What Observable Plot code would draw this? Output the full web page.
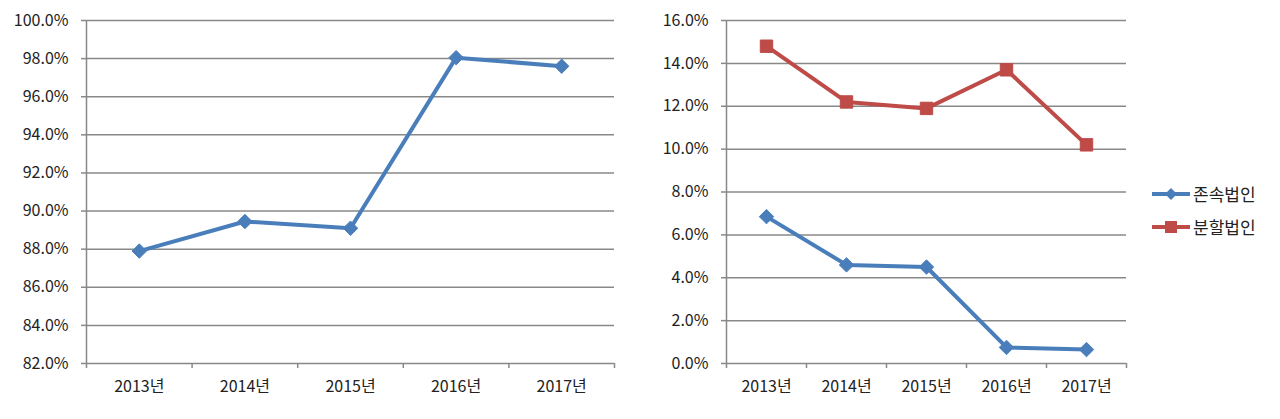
<!DOCTYPE html>
<html>
<head>
<meta charset="utf-8">
<script src="https://cdn.jsdelivr.net/npm/d3@7"></script>
<script src="https://cdn.jsdelivr.net/npm/@observablehq/plot@0.6"></script>
<style>
  html, body { margin: 0; padding: 0; background: #fff; }
  #wrap { position: relative; width: 1280px; height: 419px; font-family: "Noto Sans CJK KR", "Noto Sans", sans-serif; }
  .panel { position: absolute; top: 0; }
  .legend { position: absolute; left: 1152px; font-size: 17px; color: #222; display: flex; align-items: center; }
  .legend svg { margin-right: 3px; }
</style>
</head>
<body>
<div id="wrap"></div>
<script>
const years = ["2013", "2014", "2015", "2016", "2017"];
const leftValues = [87.9, 89.45, 89.1, 98.05, 97.6];
const survivingValues = [6.85, 4.6, 4.5, 0.75, 0.65];   // 존속법인
const splitValues = [14.8, 12.2, 11.9, 13.7, 10.2];     // 분할법인
const seriesNames = ["존속법인", "분할법인"];
const seriesColors = ["#4a7ebb", "#be4b48"];
const leftYTicks = [82, 84, 86, 88, 90, 92, 94, 96, 98, 100];
const rightYTicks = [0, 2, 4, 6, 8, 10, 12, 14, 16];

const FONT = '"Noto Sans CJK KR", "Noto Sans", sans-serif';
const GRID = "#888888";
const TEXT = "#222222";
const fmt = d => d.toFixed(1) + "%";

function panel({series, yDomain, yTicks, marginRight}) {
  const idx = d3.range(years.length);
  const centers = idx.map(i => i + 0.5);
  const bounds = d3.range(years.length + 1);
  const marks = [
    Plot.ruleY(yTicks, {stroke: GRID, strokeWidth: 1.5}),
    Plot.axisY({ticks: yTicks, tickFormat: fmt, tickSize: 5, tickPadding: 13, stroke: GRID, strokeWidth: 1.5, fill: TEXT, label: null, strokeOpacity: 1}),
    Plot.ruleX([0], {stroke: GRID, strokeWidth: 1.5}),
    Plot.axisX({ticks: bounds, tickFormat: () => "", tickSize: 5, stroke: GRID, strokeWidth: 1.5, strokeOpacity: 1, label: null}),
    Plot.axisX({ticks: centers, tickFormat: (d) => years[Math.floor(d)] + "년", tickSize: 0, tickPadding: 17, fill: TEXT, label: null})
  ];
  series.forEach((s) => {
    const data = idx.map(i => ({x: i + 0.5, y: s.values[i]}));
    marks.push(Plot.line(data, {x: "x", y: "y", stroke: s.color, strokeWidth: 4, strokeLinejoin: "round"}));
    marks.push(Plot.dot(data, {x: "x", y: "y", fill: s.color, stroke: s.color, strokeWidth: 1, symbol: s.symbol, r: s.r}));
  });
  return Plot.plot({
    width: 640,
    height: 419,
    marginTop: 20,
    marginBottom: 56,
    marginLeft: 86,
    marginRight: marginRight,
    style: {fontFamily: FONT, fontSize: "16px", color: TEXT, background: "transparent", overflow: "visible"},
    x: {domain: [0, years.length], axis: null},
    y: {domain: yDomain, axis: null},
    marks
  });
}

const wrap = document.getElementById("wrap");

const left = panel({
  series: [{values: leftValues, color: seriesColors[0], symbol: "diamond2", r: 6.5}],
  yDomain: [82, 100], yTicks: leftYTicks, marginRight: 26
});
left.classList.add("panel");
left.style.left = "0px";
wrap.appendChild(left);

const right = panel({
  series: [
    {values: survivingValues, color: seriesColors[0], symbol: "diamond2", r: 6.5},
    {values: splitValues, color: seriesColors[1], symbol: "square", r: 7}
  ],
  yDomain: [0, 16], yTicks: rightYTicks, marginRight: 154
});
right.classList.add("panel");
right.style.left = "640px";
wrap.appendChild(right);

// legend
const legendTops = [181, 214];
seriesNames.forEach((name, i) => {
  const div = document.createElement("div");
  div.className = "legend";
  div.style.top = legendTops[i] + "px";
  const sym = i === 0
    ? `<path d="M19,6 L25,12 L19,18 L13,12 Z" fill="${seriesColors[i]}"/>`
    : `<rect x="13" y="6" width="12" height="12" fill="${seriesColors[i]}"/>`;
  div.innerHTML = `<svg width="38" height="24"><line x1="0" x2="38" y1="12" y2="12" stroke="${seriesColors[i]}" stroke-width="4"/>${sym}</svg><span>${name}</span>`;
  wrap.appendChild(div);
});
</script>
</body>
</html>
